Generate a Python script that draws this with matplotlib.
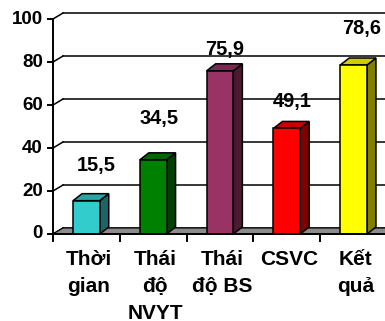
import matplotlib
matplotlib.use("Agg")
import matplotlib.pyplot as plt
from matplotlib.patches import Polygon

plt.rcParams['font.family'] = ['Liberation Sans', 'DejaVu Sans']
plt.rcParams['font.weight'] = 'bold'

# ---- data ----
categories = ["Thời\ngian", "Thái\nđộ\nNVYT", "Thái\nđộ BS", "CSVC", "Kết\nquả"]
values = [15.5, 34.5, 75.9, 49.1, 78.6]
value_labels = ["15,5", "34,5", "75,9", "49,1", "78,6"]
y_ticks = [0, 20, 40, 60, 80, 100]
y_tick_labels = ["0", "20", "40", "60", "80", "100"]

# ---- style ----
front_colors = ["#33CCCC", "#008000", "#993366", "#FF0000", "#FFFF00"]
top_colors = ["#29A3A3", "#006600", "#7A2952", "#CC0000", "#CCCC00"]
side_colors = ["#1A6666", "#004000", "#4D1A33", "#800000", "#808000"]
# label placement (pixels) relative to the top-centre of each bar
label_dx = [10, 6, 5, 5.5, 8.5]
label_lift = [35, 41, 21, 27, 37]

W, H, DPI = 385, 321, 100
fig = plt.figure(figsize=(W / DPI, H / DPI), dpi=DPI)
fig.patch.set_facecolor("white")
ax = fig.add_axes([53 / W, (H - 234) / H, (387 - 53) / W, 215 / H])
n = len(categories)
ax.set_xlim(0, n)
ax.set_ylim(0, 100)
ax.axis("off")

px_x = ax.bbox.width / n      # pixels per category
px_y = ax.bbox.height / 100   # pixels per unit


def px(dx, dy):
    return dx / px_x, dy / px_y


wall_dx, wall_dy = px(10, 6)
bar_dx, bar_dy = px(9, 7)
lw = 1.1

# back wall gridlines and side-wall diagonals
for t in y_ticks:
    ax.plot([wall_dx, n + wall_dx + 1], [t + wall_dy, t + wall_dy],
            color="black", lw=lw, clip_on=False, zorder=1)
    ax.plot([0, wall_dx], [t, t + wall_dy], color="black", lw=lw,
            clip_on=False, zorder=1)

# floor
ax.add_patch(Polygon([(0, 0), (n + 1, 0), (n + 1 + wall_dx, wall_dy), (wall_dx, wall_dy)],
                     closed=True, facecolor="#8C8C8C", edgecolor="black",
                     lw=0.8, clip_on=False, zorder=2))

# bars
bw = 0.4
for i, v in enumerate(values):
    x0 = i + 0.5 - bw / 2
    x1 = i + 0.5 + bw / 2
    ax.add_patch(Polygon([(x1, 0), (x1 + bar_dx, bar_dy), (x1 + bar_dx, v + bar_dy), (x1, v)],
                         closed=True, facecolor=side_colors[i], edgecolor="black",
                         lw=lw, zorder=3, clip_on=False))
    ax.add_patch(Polygon([(x0, v), (x1, v), (x1 + bar_dx, v + bar_dy), (x0 + bar_dx, v + bar_dy)],
                         closed=True, facecolor=top_colors[i], edgecolor="black",
                         lw=lw, zorder=3, clip_on=False))
    ax.add_patch(Polygon([(x0, 0), (x1, 0), (x1, v), (x0, v)],
                         closed=True, facecolor=front_colors[i], edgecolor="black",
                         lw=lw, zorder=4, clip_on=False))
    ax.annotate(value_labels[i], xy=(i + 0.5, v), xytext=(label_dx[i], label_lift[i]),
                textcoords="offset pixels", ha="center", va="center",
                fontsize=14.4, fontweight="bold", zorder=6)

# front axes
tick_len_x = 7 / px_y
tick_len_y = 5 / px_x
ax.plot([0, n + 1], [0, 0], color="black", lw=1.4, clip_on=False, zorder=5)
ax.plot([0, 0], [-tick_len_x, 100], color="black", lw=1.4, clip_on=False, zorder=5)
for k in range(1, n + 1):
    ax.plot([k, k], [0, -tick_len_x], color="black", lw=1.4, clip_on=False, zorder=5)
for t, lab in zip(y_ticks, y_tick_labels):
    ax.plot([-tick_len_y, 0], [t, t], color="black", lw=1.4, clip_on=False, zorder=5)
    ax.annotate(lab, xy=(0, t), xytext=(-10, 0), textcoords="offset pixels",
                ha="right", va="center", fontsize=13.5, fontweight="bold")

# category labels
for i, cat in enumerate(categories):
    ax.annotate(cat, xy=(i + 0.5, 0), xytext=(2, -16), textcoords="offset pixels",
                ha="center", va="top", multialignment="center",
                fontsize=15, fontweight="bold", linespacing=1.52, annotation_clip=False)

fig.savefig("out.png", dpi=DPI)
